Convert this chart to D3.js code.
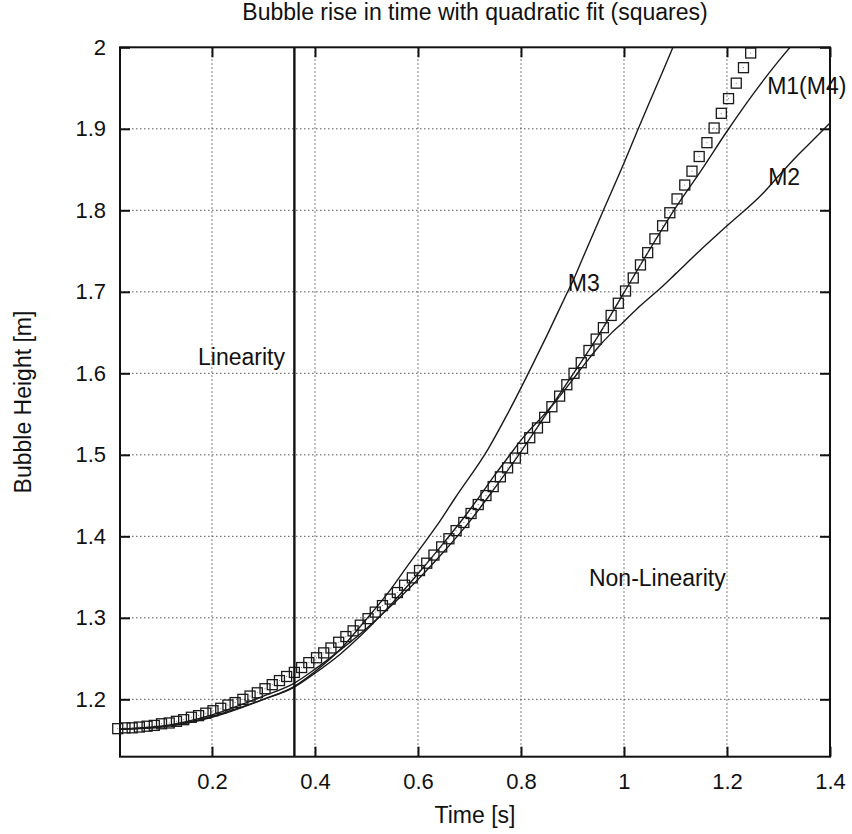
<!DOCTYPE html>
<html>
<head>
<meta charset="utf-8">
<script src="https://cdn.jsdelivr.net/npm/d3@7"></script>
<style>
  body { margin: 0; background: #fff; }
  text { font-family: "Liberation Sans", Arial, Helvetica, sans-serif; fill: #111; }
  .grid line { stroke: #555; stroke-width: 1; stroke-dasharray: 1.5,2.5; }
  .curve { fill: none; stroke: #1a1a1a; stroke-width: 1.4; }
  .sq { fill: none; stroke: #1a1a1a; stroke-width: 1.3; }
</style>
</head>
<body>
<div id="chart"></div>
<script>
// Squares: quadratic fit of the bubble height
var timeSquares = [0.017, 0.031, 0.045, 0.059, 0.074, 0.088, 0.102, 0.117, 0.131, 0.145,
  0.160, 0.174, 0.188, 0.202, 0.217, 0.231, 0.245, 0.260, 0.274, 0.288,
  0.303, 0.317, 0.331, 0.345, 0.360, 0.374, 0.388, 0.403, 0.417, 0.431,
  0.446, 0.460, 0.474, 0.488, 0.503, 0.517, 0.531, 0.546, 0.560, 0.574,
  0.589, 0.603, 0.617, 0.631, 0.646, 0.660, 0.674, 0.689, 0.703, 0.717,
  0.732, 0.746, 0.760, 0.774, 0.789, 0.803, 0.817, 0.832, 0.846, 0.860,
  0.875, 0.889, 0.903, 0.917, 0.932, 0.946, 0.960, 0.975, 0.989, 1.003,
  1.018, 1.032, 1.046, 1.060, 1.075, 1.089, 1.103, 1.118, 1.132, 1.146,
  1.161, 1.175, 1.189, 1.203, 1.218, 1.232, 1.246];
var heightSquares = [1.164, 1.165, 1.165, 1.166, 1.167, 1.168, 1.170, 1.171, 1.173, 1.175,
  1.178, 1.180, 1.183, 1.186, 1.189, 1.193, 1.196, 1.200, 1.204, 1.208,
  1.213, 1.218, 1.223, 1.228, 1.233, 1.239, 1.245, 1.251, 1.257, 1.263,
  1.270, 1.277, 1.284, 1.291, 1.299, 1.307, 1.315, 1.323, 1.331, 1.340,
  1.349, 1.358, 1.367, 1.377, 1.387, 1.397, 1.407, 1.417, 1.428, 1.439,
  1.450, 1.461, 1.473, 1.484, 1.496, 1.508, 1.521, 1.533, 1.546, 1.559,
  1.572, 1.586, 1.600, 1.613, 1.628, 1.642, 1.656, 1.671, 1.686, 1.701,
  1.717, 1.733, 1.748, 1.765, 1.781, 1.797, 1.814, 1.831, 1.848, 1.866,
  1.883, 1.901, 1.919, 1.937, 1.956, 1.975, 1.993];

// Model curves
var timeM1 = [0, 0.1, 0.2, 0.3, 0.36, 0.4, 0.45, 0.5, 0.55, 0.6, 0.65, 0.7, 0.75, 0.8,
  0.85, 0.9, 0.95, 1.0, 1.05, 1.1, 1.15, 1.2, 1.25, 1.3, 1.35];
var heightM1 = [1.163, 1.167, 1.181, 1.204, 1.220, 1.237, 1.261, 1.287, 1.316, 1.347, 1.381, 1.418, 1.460, 1.504,
  1.551, 1.598, 1.646, 1.699, 1.752, 1.803, 1.849, 1.897, 1.942, 1.983, 2.02];

var timeM2 = [0, 0.1, 0.2, 0.3, 0.36, 0.4, 0.45, 0.5, 0.55, 0.6, 0.65, 0.7, 0.714, 0.75, 0.775,
  0.8, 0.85, 0.869, 0.9, 0.927, 0.95, 0.975, 0.999, 1.03, 1.07, 1.1, 1.148, 1.2, 1.27, 1.3,
  1.335, 1.37, 1.4];
var heightM2 = [1.163, 1.166, 1.179, 1.200, 1.215, 1.232, 1.256, 1.285, 1.318, 1.354, 1.392, 1.432, 1.444, 1.476, 1.497,
  1.518, 1.553, 1.567, 1.592, 1.614, 1.632, 1.649, 1.663, 1.682, 1.704, 1.722, 1.751, 1.781, 1.821, 1.842,
  1.866, 1.888, 1.907];

var timeM3 = [0, 0.1, 0.2, 0.3, 0.36, 0.4, 0.45, 0.494, 0.546, 0.58, 0.617, 0.643, 0.672,
  0.737, 0.772, 0.811, 0.85, 0.889, 0.902, 0.921, 0.96, 1.0, 1.025, 1.06, 1.095, 1.12];
var heightM3 = [1.163, 1.166, 1.178, 1.200, 1.216, 1.234, 1.262, 1.294, 1.334, 1.364, 1.396, 1.419, 1.447,
  1.508, 1.548, 1.596, 1.646, 1.698, 1.715, 1.743, 1.800, 1.858, 1.896, 1.948, 2.0, 2.04];

// Vertical marker between the two regimes
var linearityTime = 0.36;

// Axis ticks
var xTickValues = [0.2, 0.4, 0.6, 0.8, 1, 1.2, 1.4];
var yTickValues = [1.2, 1.3, 1.4, 1.5, 1.6, 1.7, 1.8, 1.9, 2];

// Text notes in data coordinates
var noteText = ["Linearity", "Non-Linearity", "M3", "M1(M4)", "M2"];
var noteTime = [0.173, 0.932, 0.891, 1.278, 1.280];
var noteHeight = [1.610, 1.339, 1.701, 1.943, 1.831];

// Define SVG area dimensions
var svgWidth = 852;
var svgHeight = 834;

var chartMargin = {
  top: 47.3,
  right: 22,
  bottom: 77.3,
  left: 120
};

var chartWidth = svgWidth - chartMargin.left - chartMargin.right;
var chartHeight = svgHeight - chartMargin.top - chartMargin.bottom;

var svg = d3.select("#chart")
  .append("svg")
  .attr("width", svgWidth)
  .attr("height", svgHeight);

var chartGroup = svg.append("g")
  .attr("transform", `translate(${chartMargin.left}, ${chartMargin.top})`);

// Scales
var xLinearScale = d3.scaleLinear()
  .domain([0.0214, 1.4])
  .range([0, chartWidth]);

var yLinearScale = d3.scaleLinear()
  .domain([1.1296, 2])
  .range([chartHeight, 0]);

// clip for the curves
svg.append("defs").append("clipPath")
  .attr("id", "plotClip")
  .append("rect")
  .attr("width", chartWidth)
  .attr("height", chartHeight);

// Grid lines
chartGroup.append("g")
  .attr("class", "grid")
  .selectAll("line")
  .data(xTickValues.slice(0, -1))
  .enter()
  .append("line")
  .attr("x1", d => xLinearScale(d))
  .attr("x2", d => xLinearScale(d))
  .attr("y1", 0)
  .attr("y2", chartHeight);

chartGroup.append("g")
  .attr("class", "grid")
  .selectAll("line")
  .data(yTickValues.slice(0, -1))
  .enter()
  .append("line")
  .attr("x1", 0)
  .attr("x2", chartWidth)
  .attr("y1", d => yLinearScale(d))
  .attr("y2", d => yLinearScale(d));

// Axes: inward ticks mirrored on all four sides
function styleAxis(g) {
  g.select(".domain").remove();
  g.selectAll(".tick line").attr("stroke", "#111").attr("stroke-width", 2);
  g.selectAll(".tick text")
    .style("font-size", "22px")
    .attr("fill", "#111");
}

chartGroup.append("g")
  .attr("transform", `translate(0, ${chartHeight})`)
  .call(d3.axisBottom(xLinearScale).tickValues(xTickValues).tickFormat(d3.format("")).tickSizeInner(-10).tickPadding(17))
  .call(styleAxis);

chartGroup.append("g")
  .call(d3.axisTop(xLinearScale).tickValues(xTickValues).tickSizeInner(-10).tickFormat(""))
  .call(styleAxis);

chartGroup.append("g")
  .call(d3.axisLeft(yLinearScale).tickValues(yTickValues).tickFormat(d3.format("")).tickSizeInner(-10).tickPadding(14))
  .call(styleAxis);

chartGroup.append("g")
  .attr("transform", `translate(${chartWidth}, 0)`)
  .call(d3.axisRight(yLinearScale).tickValues(yTickValues).tickSizeInner(-10).tickFormat(""))
  .call(styleAxis);

// Border
chartGroup.append("rect")
  .attr("width", chartWidth)
  .attr("height", chartHeight)
  .attr("fill", "none")
  .attr("stroke", "#111")
  .attr("stroke-width", 2);

// Model curves
var curveLine = d3.line()
  .x(d => xLinearScale(d[0]))
  .y(d => yLinearScale(d[1]))
  .curve(d3.curveMonotoneX);

var curveGroup = chartGroup.append("g")
  .attr("clip-path", "url(#plotClip)");

[[timeM1, heightM1], [timeM2, heightM2], [timeM3, heightM3]].forEach(function(s) {
  curveGroup.append("path")
    .datum(d3.zip(s[0], s[1]))
    .attr("class", "curve")
    .attr("d", curveLine);
});

// Squares
var squareSize = 10;
var squareData = d3.zip(timeSquares, heightSquares);

chartGroup.selectAll(".sq")
  .data(squareData)
  .enter()
  .append("rect")
  .attr("class", "sq")
  .attr("x", d => xLinearScale(d[0]) - squareSize / 2)
  .attr("y", d => yLinearScale(d[1]) - squareSize / 2)
  .attr("width", squareSize)
  .attr("height", squareSize);

chartGroup.selectAll(".sqdot")
  .data(squareData)
  .enter()
  .append("rect")
  .attr("class", "sqdot")
  .attr("x", d => xLinearScale(d[0]) - 0.5)
  .attr("y", d => yLinearScale(d[1]) - 0.5)
  .attr("width", 1)
  .attr("height", 1)
  .attr("fill", "#777");

// Linearity marker
chartGroup.append("line")
  .attr("x1", xLinearScale(linearityTime))
  .attr("x2", xLinearScale(linearityTime))
  .attr("y1", 0)
  .attr("y2", chartHeight)
  .attr("stroke", "#111")
  .attr("stroke-width", 2.4);

// Notes
chartGroup.selectAll(".note")
  .data(noteText)
  .enter()
  .append("text")
  .attr("class", "note")
  .attr("x", (d, i) => xLinearScale(noteTime[i]))
  .attr("y", (d, i) => yLinearScale(noteHeight[i]))
  .style("font-size", "23px")
  .text(d => d);

// Title and axis labels
svg.append("text")
  .attr("x", chartMargin.left + chartWidth / 2)
  .attr("y", 20)
  .attr("text-anchor", "middle")
  .style("font-size", "23px")
  .text("Bubble rise in time with quadratic fit (squares)");

svg.append("text")
  .attr("transform", "rotate(-90)")
  .attr("x", 0 - (chartMargin.top + chartHeight / 2))
  .attr("y", 31)
  .attr("text-anchor", "middle")
  .style("font-size", "23px")
  .text("Bubble Height [m]");

svg.append("text")
  .attr("x", chartMargin.left + chartWidth / 2)
  .attr("y", 823)
  .attr("text-anchor", "middle")
  .style("font-size", "23px")
  .text("Time [s]");
</script>
</body>
</html>
